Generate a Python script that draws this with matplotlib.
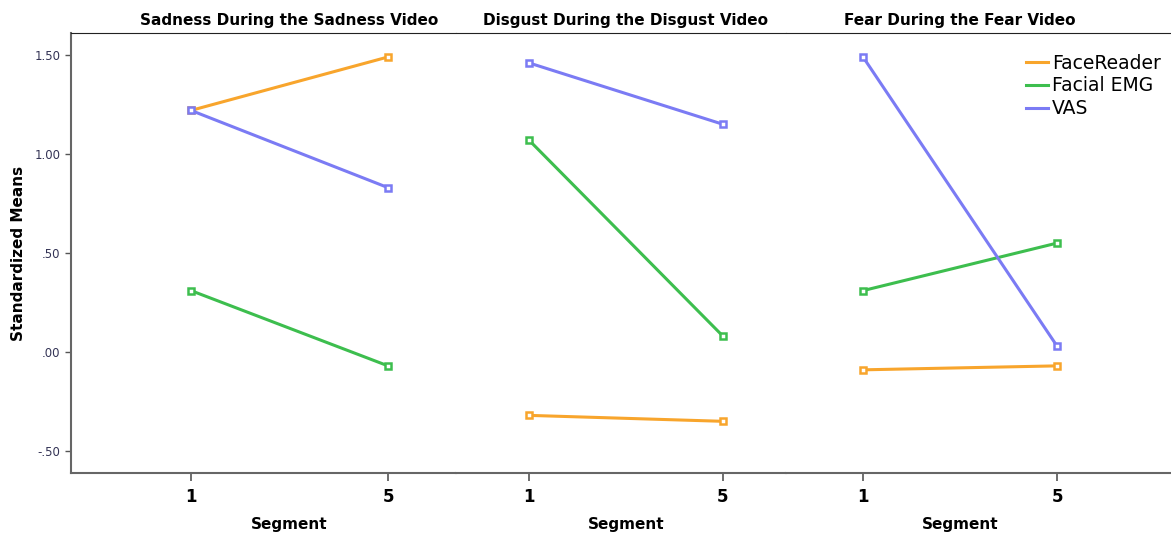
import numpy as np
import matplotlib.pyplot as plt
import matplotlib.transforms as mtransforms

# Datos
segmentos = [1, 5]
paneles = ['Sadness During the Sadness Video',
           'Disgust During the Disgust Video',
           'Fear During the Fear Video']
series = ['FaceReader', 'Facial EMG', 'VAS']
colores = ['#F8A52C', '#3DBE4E', '#7B7BF4']

facereader = [[1.22, 1.49], [-0.32, -0.35], [-0.09, -0.07]]
facial_emg = [[0.31, -0.07], [1.07, 0.08], [0.31, 0.55]]
vas = [[1.22, 0.83], [1.46, 1.15], [1.49, 0.03]]
valores = [facereader, facial_emg, vas]

yticks = [-0.5, 0.0, 0.5, 1.0, 1.5]
ytick_labels = ['-.50', '.00', '.50', '1.00', '1.50']

# limites x de cada panel (para colocar 1 y 5 como en el original)
xlims = [(-1.437, 6.38), (-0.505, 6.30), (-0.588, 7.35)]

fig = plt.figure(figsize=(11.71, 5.35), dpi=100)
gs = fig.add_gridspec(1, 3, width_ratios=[385, 330, 385], wspace=0,
                      left=71 / 1171, right=1.0, top=1 - 33 / 535, bottom=1 - 473 / 535)

ejes = []
for i, titulo in enumerate(paneles):
    ax = fig.add_subplot(gs[0, i])
    ejes.append(ax)
    for j, nombre in enumerate(series):
        ax.plot(segmentos, valores[j][i], color=colores[j], lw=2.2,
                marker='s', ms=5, mfc='white', mec=colores[j], mew=1.8,
                label=nombre)
    ax.set_xlim(*xlims[i])
    ax.set_ylim(-0.611, 1.611)
    ax.set_xticks(segmentos)
    ax.set_xticklabels([str(s) for s in segmentos], fontsize=12, fontweight='bold')
    ax.tick_params(axis='x', length=6, width=1.2, color='#555555', pad=5)
    # titulo y etiqueta centrados entre los segmentos
    trans = mtransforms.blended_transform_factory(ax.transData, ax.transAxes)
    centro = np.mean(segmentos)
    ax.text(centro, 1.028, titulo, transform=trans, ha='center', va='center',
            fontsize=11, fontweight='bold')
    ax.text(centro, -0.117, 'Segment', transform=trans, ha='center', va='center',
            fontsize=11, fontweight='bold')
    ax.spines['right'].set_visible(False)
    ax.spines['top'].set_color('#222222')
    ax.spines['bottom'].set_color('#666666')
    ax.spines['bottom'].set_linewidth(1.5)
    if i == 0:
        ax.set_yticks(yticks)
        ax.set_yticklabels(ytick_labels, fontsize=8.5, color='#333355')
        ax.tick_params(axis='y', length=4, width=1, color='#555555')
        ax.spines['left'].set_color('#666666')
        ax.spines['left'].set_linewidth(1.5)
        ax.set_ylabel('Standardized Means', fontsize=11, fontweight='bold', labelpad=6)
    else:
        ax.spines['left'].set_visible(False)
        ax.set_yticks([])

ejes[2].legend(loc='upper right', bbox_to_anchor=(1.027, 1.0), frameon=False,
               fontsize=13.5, handlelength=1.2, handletextpad=0.2,
               labelspacing=0.2, borderaxespad=0.7)
leg = ejes[2].get_legend()
for h in leg.get_lines():
    h.set_marker('')

plt.savefig('out.png', dpi=100)
